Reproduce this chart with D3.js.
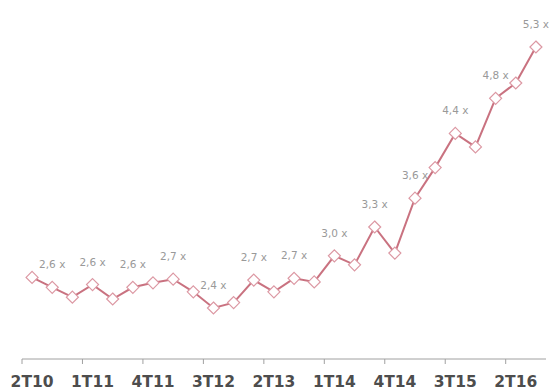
<!DOCTYPE html>
<html><head><meta charset="utf-8">
<script src="https://cdn.jsdelivr.net/npm/d3@7"></script>
<style>body{margin:0;background:#fff}svg{display:block}</style>
</head><body>
<svg id="c" width="554" height="392"></svg>
<script>
const quarters = ["2T10","3T10","4T10","1T11","2T11","3T11","4T11","1T12","2T12","3T12","4T12","1T13","2T13","3T13","4T13","1T14","2T14","3T14","4T14","1T15","2T15","3T15","4T15","1T16","2T16","3T16"];
const values = [2.74,2.63,2.52,2.66,2.50,2.63,2.68,2.72,2.58,2.40,2.46,2.71,2.58,2.73,2.69,2.98,2.88,3.30,3.01,3.62,3.96,4.34,4.19,4.73,4.90,5.30];
const labelIdx = [1,3,5,7,9,11,13,15,17,19,21,23,25];
const labelVals = [2.6,2.6,2.6,2.7,2.4,2.7,2.7,3.0,3.3,3.6,4.4,4.8,5.3];
const tickLabels = ["2T10","1T11","4T11","3T12","2T13","1T14","4T14","3T15","2T16"];

const svg = d3.select("#c");
const x = d3.scaleBand().domain(quarters).range([22, 546]).paddingInner(0).paddingOuter(0);
const y = d3.scaleLinear().domain([2.4, 5.3]).range([308, 47]);
const cx = q => x(q) + x.bandwidth()/2;

// axis
const axisY = 359;
svg.append("line").attr("x1", 22).attr("x2", 546).attr("y1", axisY).attr("y2", axisY)
  .attr("stroke", "#a0a0a0").attr("stroke-width", 1);
const tickQs = quarters.filter((q,i)=> i%3===0);
svg.selectAll("line.tk").data(tickQs).join("line").attr("class","tk")
  .attr("x1", q=>x(q)).attr("x2", q=>x(q)).attr("y1", axisY).attr("y2", axisY+5)
  .attr("stroke", "#a0a0a0");
svg.selectAll("text.tl").data(tickLabels).join("text").attr("class","tl")
  .attr("x", d=>cx(d)).attr("y", 387).attr("text-anchor","middle")
  .attr("font-family","DejaVu Sans, Verdana, sans-serif").attr("font-weight","bold")
  .attr("font-size", 15.5).attr("fill","#4d4d4d").text(d=>d);

// line
const line = d3.line().x((d,i)=>cx(quarters[i])).y(d=>y(d));
svg.append("path").datum(values).attr("d", line).attr("fill","none")
  .attr("stroke","#c0596a").attr("stroke-width", 2).attr("stroke-opacity",0.85);

// markers
const s = 6;
svg.selectAll("path.mk").data(values).join("path").attr("class","mk")
  .attr("transform",(d,i)=>`translate(${cx(quarters[i])},${y(d)})`)
  .attr("d", `M0,${-s}L${s},0L0,${s}L${-s},0Z`)
  .attr("fill","#fff").attr("stroke","#dc98a3").attr("stroke-width",1.2);

// labels
const fmt = v => d3.format(".1f")(v).replace(".", ",") + " x";
svg.selectAll("text.lb").data(labelIdx).join("text").attr("class","lb")
  .attr("x", (d)=>cx(quarters[d])).attr("y", d=>y(values[d]) - 19)
  .attr("text-anchor","middle").attr("font-family","DejaVu Sans, Verdana, sans-serif")
  .attr("font-size", 10.5).attr("fill","#999")
  .text((d,i)=>fmt(labelVals[i]));
</script>
</body></html>
